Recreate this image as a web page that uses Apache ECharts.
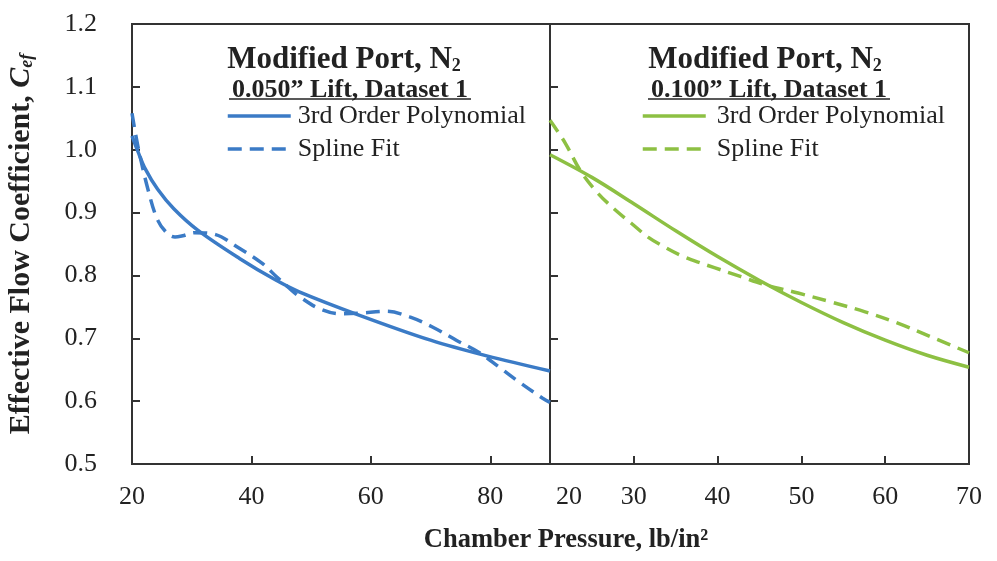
<!DOCTYPE html>
<html>
<head>
<meta charset="utf-8">
<script src="https://cdn.jsdelivr.net/npm/echarts@6/dist/echarts.min.js"></script>
<style>
html,body{margin:0;padding:0;background:#fff;}
#chart{width:997px;height:561px;}
</style>
</head>
<body>
<div id="chart"></div>
<script>
// ---- data ----
const leftPolyX   = [20, 21, 22.2, 24.3, 27, 31, 38, 44, 48, 58, 70, 79.4, 90];
const leftPolyY   = [1.022, 0.997, 0.970, 0.937, 0.906, 0.872, 0.827, 0.793, 0.774, 0.737, 0.697, 0.672, 0.648];
const leftSplineX = [20, 21, 22.7, 24.3, 26, 27.2, 28.5, 30.5, 34, 37.5, 41.7, 44.3, 46.3, 48.1, 51.4, 54.8, 58.1, 62.6, 66.5, 70.3, 74.3, 78.2, 81.5, 84.9, 88.7, 90];
const leftSplineY = [1.058, 1.005, 0.936, 0.888, 0.866, 0.861, 0.863, 0.868, 0.865, 0.846, 0.82, 0.797, 0.78, 0.766, 0.747, 0.739, 0.740, 0.743, 0.734, 0.718, 0.697, 0.677, 0.654, 0.630, 0.605, 0.598];
const rightPolyX   = [20, 25, 30, 35, 40, 45, 50, 55, 60, 65, 70];
const rightPolyY   = [0.992, 0.956, 0.914, 0.871, 0.830, 0.792, 0.757, 0.725, 0.697, 0.673, 0.654];
const rightSplineX = [20, 21.8, 23.7, 25.7, 27.8, 29.7, 31.7, 33.7, 35.6, 37.7, 39.7, 42.8, 45.7, 49.6, 53.5, 57.6, 61.5, 65.5, 70];
const rightSplineY = [1.047, 1.011, 0.965, 0.931, 0.904, 0.883, 0.861, 0.845, 0.832, 0.821, 0.812, 0.798, 0.785, 0.772, 0.758, 0.742, 0.724, 0.702, 0.677];
const yTicks = [0.5, 0.6, 0.7, 0.8, 0.9, 1.0, 1.1, 1.2];
const leftXTicks = [20, 40, 60, 80];
const rightXTicks = [20, 30, 40, 50, 60, 70];
const legendNames = {poly1: '3rd Order Polynomial', spline1: 'Spline Fit', poly2: '3rd Order Polynomial', spline2: 'Spline Fit'};

const zip = (xs, ys) => xs.map((x, i) => [x, ys[i]]);
const BLUE = '#3b7bc6';
const GREEN = '#8dc043';
const AXIS = '#333333';
const SERIF = '"Liberation Serif", "Times New Roman", serif';

const chart = echarts.init(document.getElementById('chart'), null, {renderer: 'canvas'});

function xAxisCfg(idx, min, max, interval, extraLabel) {
  return Object.assign({
    type: 'value', gridIndex: idx, min: min, max: max, interval: interval,
    axisLine: {show: true, lineStyle: {color: AXIS, width: 2}},
    axisTick: {show: true, inside: true, length: 8, lineStyle: {color: AXIS, width: 2}},
    splitLine: {show: false}
  }, extraLabel || {});
}
function yAxisCfg(idx, showLabel) {
  return {
    type: 'value', gridIndex: idx, min: 0.5, max: 1.2, interval: 0.1,
    axisLine: {show: true, lineStyle: {color: AXIS, width: 2}},
    axisTick: {show: true, inside: true, length: 8, lineStyle: {color: AXIS, width: 2}},
    splitLine: {show: false},
    axisLabel: {show: showLabel, fontFamily: SERIF, fontSize: 26, color: '#222', margin: 35,
      formatter: v => yTicks.some(t => Math.abs(t - v) < 1e-9) ? v.toFixed(1) : ''},
    name: showLabel ? 'Effective Flow Coefficient, {it|C}{sub|ef}' : '',
    nameLocation: 'middle', nameGap: 96, nameRotate: 90,
    nameTextStyle: {fontFamily: SERIF, fontSize: 30, fontWeight: 'bold', color: '#222',
      rich: {
        it: {fontFamily: SERIF, fontSize: 30, fontWeight: 'bold', fontStyle: 'italic', color: '#222'},
        sub: {fontFamily: SERIF, fontSize: 18, fontWeight: 'bold', fontStyle: 'italic', color: '#222', verticalAlign: 'bottom', padding: [10, 0, 0, 0]}
      }}
  };
}

const lineSeries = (name, data, color, dashed, idx) => ({
  name: name, type: 'line', xAxisIndex: idx, yAxisIndex: idx, data: data,
  smooth: 0.35, symbol: 'none', showSymbol: false,
  lineStyle: {color: color, width: 3.5, type: dashed ? [14, 8] : 'solid'},
  itemStyle: {color: color}, z: dashed ? 3 : 4
});

const titleStyle = {fontFamily: SERIF, fontSize: 31, fontWeight: 'bold', color: '#222',
  rich: {sub: {fontFamily: SERIF, fontSize: 18, fontWeight: 'bold', color: '#222', verticalAlign: 'bottom', padding: [9, 0, 0, 0]}}};
const subStyle = {fontFamily: SERIF, fontSize: 26, fontWeight: 'bold', color: '#222'};

const legendCommon = {
  orient: 'vertical', itemWidth: 63, itemHeight: 14, itemGap: 7, padding: 0,
  selectedMode: false,
  itemStyle: {opacity: 0},
  lineStyle: {width: 3.5},
  formatter: n => legendNames[n],
  textStyle: {fontFamily: SERIF, fontSize: 26, color: '#222', lineHeight: 26}
};

chart.setOption({
  animation: false,
  backgroundColor: '#fff',
  grid: [
    {left: 132, top: 24, width: 418, height: 440, show: true, borderColor: AXIS, borderWidth: 2, containLabel: false},
    {left: 550, top: 24, width: 419, height: 440, show: true, borderColor: AXIS, borderWidth: 2, containLabel: false}
  ],
  xAxis: [
    xAxisCfg(0, 20, 90, 20, {axisLabel: {fontFamily: SERIF, fontSize: 26, color: '#222', margin: 20, showMaxLabel: false,
      formatter: v => leftXTicks.includes(v) ? String(v) : ''}}),
    xAxisCfg(1, 20, 70, 10, {axisLabel: {fontFamily: SERIF, fontSize: 26, color: '#222', margin: 20,
      formatter: v => v === 20 ? '{a|20}' : (rightXTicks.includes(v) ? String(v) : ''),
      rich: {a: {fontFamily: SERIF, fontSize: 26, color: '#222', padding: [0, 0, 0, 38]}}}})
  ],
  yAxis: [yAxisCfg(0, true), yAxisCfg(1, false)],
  title: [
    {text: 'Modified Port, N{sub|2}', left: 344, top: 44, textAlign: 'center', padding: 0, textStyle: titleStyle},
    {text: '0.050\u201d Lift, Dataset 1', left: 350, top: 77, textAlign: 'center', padding: 0, textStyle: subStyle},
    {text: 'Modified Port, N{sub|2}', left: 765, top: 44, textAlign: 'center', padding: 0, textStyle: titleStyle},
    {text: '0.100\u201d Lift, Dataset 1', left: 769, top: 77, textAlign: 'center', padding: 0, textStyle: subStyle},
    {text: 'Chamber Pressure, lb/in\u00b2', left: 566, top: 527, textAlign: 'center', padding: 0,
      textStyle: {fontFamily: SERIF, fontSize: 26.5, fontWeight: 'bold', color: '#222'}}
  ],
  legend: [
    Object.assign({}, legendCommon, {left: 226, top: 103, data: ['poly1', 'spline1'],
      textStyle: Object.assign({}, legendCommon.textStyle, {padding: [0, 0, 0, 2]})}),
    Object.assign({}, legendCommon, {left: 641, top: 103, data: ['poly2', 'spline2'],
      textStyle: Object.assign({}, legendCommon.textStyle, {padding: [0, 0, 0, 6]})})
  ],
  graphic: [
    {type: 'line', shape: {x1: 229, y1: 99, x2: 471, y2: 99}, style: {stroke: '#222', lineWidth: 1.5}},
    {type: 'line', shape: {x1: 648, y1: 99, x2: 890, y2: 99}, style: {stroke: '#222', lineWidth: 1.5}}
  ],
  series: [
    lineSeries('poly1', zip(leftPolyX, leftPolyY), BLUE, false, 0),
    lineSeries('spline1', zip(leftSplineX, leftSplineY), BLUE, true, 0),
    lineSeries('poly2', zip(rightPolyX, rightPolyY), GREEN, false, 1),
    lineSeries('spline2', zip(rightSplineX, rightSplineY), GREEN, true, 1)
  ]
});
</script>
</body>
</html>
